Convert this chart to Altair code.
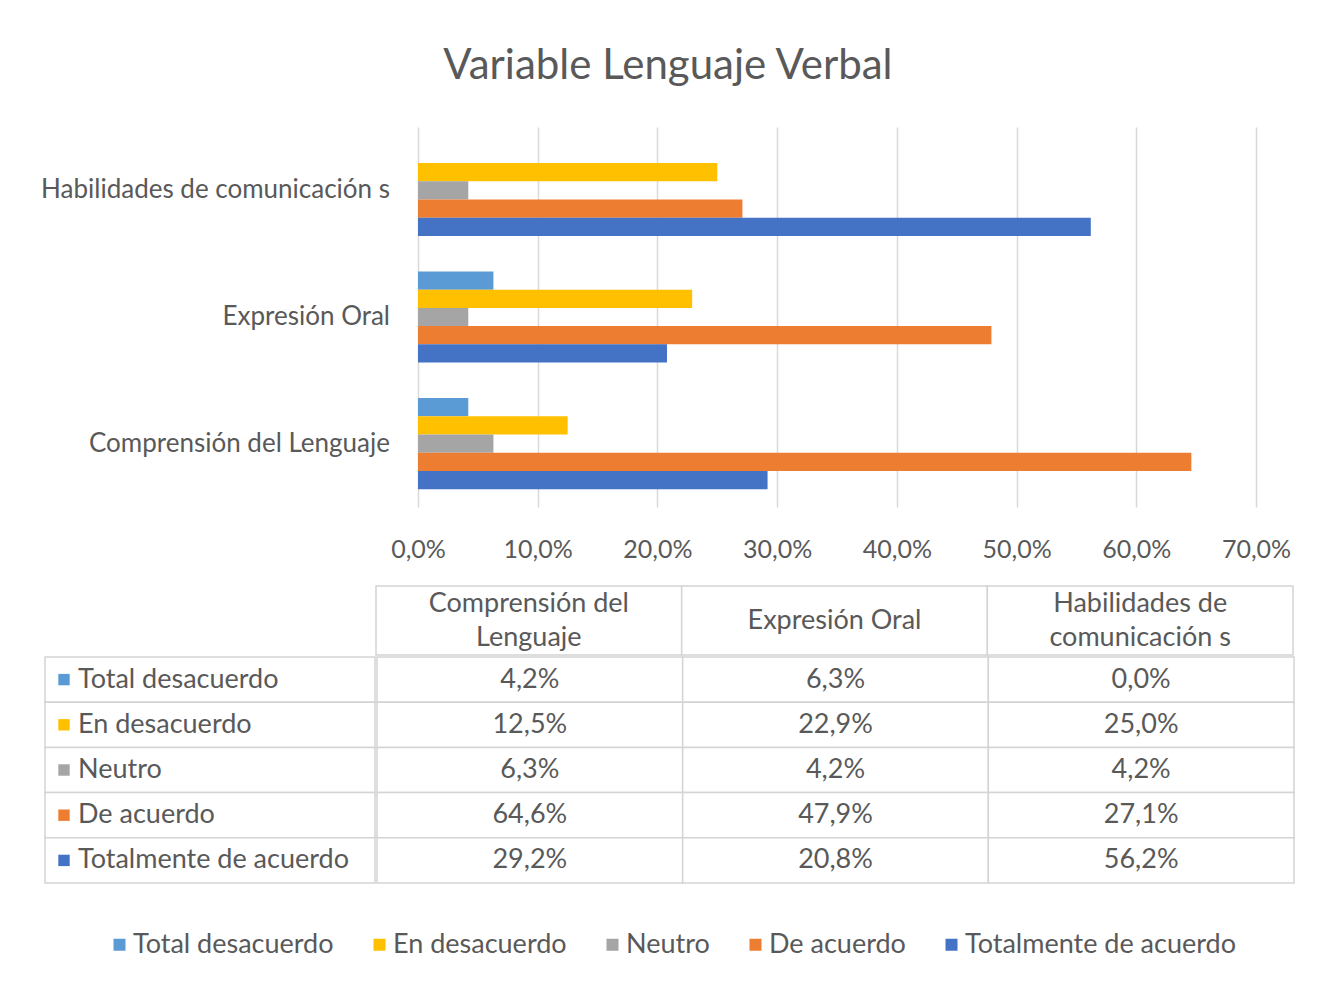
import altair as alt
import pandas as pd

# ---------------- data ----------------
title_text = "Variable Lenguaje Verbal"
categories = ["Comprensión del Lenguaje", "Expresión Oral", "Habilidades de comunicación s"]
categories_top_down = ["Habilidades de comunicación s", "Expresión Oral", "Comprensión del Lenguaje"]
table_headers = ["Comprensión del\nLenguaje", "Expresión Oral", "Habilidades de\ncomunicación s"]
series = ["Total desacuerdo", "En desacuerdo", "Neutro", "De acuerdo", "Totalmente de acuerdo"]
series_colors = ["#5B9BD5", "#FFC000", "#A5A5A5", "#ED7D31", "#4472C4"]

total_desacuerdo = [4.2, 6.3, 0.0]
en_desacuerdo = [12.5, 22.9, 25.0]
neutro = [6.3, 4.2, 4.2]
de_acuerdo = [64.6, 47.9, 27.1]
totalmente_de_acuerdo = [29.2, 20.8, 56.2]

x_ticks = [0.0, 0.1, 0.2, 0.3, 0.4, 0.5, 0.6, 0.7]

series_values = [total_desacuerdo, en_desacuerdo, neutro, de_acuerdo, totalmente_de_acuerdo]
rows = []
for s, vals in zip(series, series_values):
    for c, v in zip(categories, vals):
        rows.append({"category": c, "series": s, "value": v / 100.0,
                     "label": f"{v:.1f}%".replace(".", ",")})
df = pd.DataFrame(rows)
cat_df = pd.DataFrame({"category": categories})
hdr_df = pd.DataFrame({"category": categories, "text": table_headers})
ser_df = pd.DataFrame({"series": series})

# ---------------- style ----------------
FONT = "Lato"
GRAY = "#595959"
GRID = "#d9d9d9"
BORDER = "#d4d4d4"
FS = 27

color_scale = alt.Scale(domain=series, range=series_colors)
band0 = alt.Scale(paddingInner=0, paddingOuter=0)
cat_scale = alt.Scale(paddingInner=0.28, paddingOuter=0.14)

# ---------------- bar chart ----------------
ylabels = alt.Chart(cat_df).mark_text(
    align="right", fontSize=26, font=FONT, color=GRAY
).encode(
    y=alt.Y("category:N", sort=categories_top_down, scale=cat_scale, axis=None),
    x=alt.value(345),
    text="category:N",
).properties(width=345, height=380)

bars = alt.Chart(df).mark_bar().encode(
    y=alt.Y("category:N", sort=categories_top_down, scale=cat_scale, axis=None),
    yOffset=alt.YOffset("series:N", sort=series, scale=band0),
    x=alt.X("value:Q", scale=alt.Scale(domain=[0, 0.7], nice=False),
            axis=alt.Axis(title=None, values=x_ticks, grid=True, gridColor=GRID, gridWidth=1.5,
                          domain=False, ticks=False, labelPadding=30, labelFontSize=25,
                          labelColor=GRAY, labelFont=FONT, labelFlush=False,
                          labelOverlap=False,
                          labelExpr="replace(format(datum.value, '.1%'), '.', ',')")),
    color=alt.Color("series:N", sort=series, scale=color_scale, legend=None),
).properties(width=838, height=380)

top = alt.hconcat(ylabels, bars, spacing=0)

# ---------------- data table ----------------
blank = alt.Chart(ser_df).mark_text(text="").encode(
    x=alt.value(0), y=alt.value(0)
).properties(width=330, height=69)

hdr_x = alt.X("category:N", sort=categories, axis=None, scale=band0)
multi = "indexof(datum.text, '\\n') >= 0"
header = alt.layer(
    alt.Chart(hdr_df).mark_rect(fill="white", stroke=BORDER, strokeWidth=1.5).encode(x=hdr_x),
    alt.Chart(hdr_df).transform_filter(multi).mark_text(
        lineBreak="\n", fontSize=FS, font=FONT, color=GRAY, lineHeight=34, dy=-17
    ).encode(x=hdr_x, text="text:N"),
    alt.Chart(hdr_df).transform_filter("!(" + multi + ")").mark_text(
        fontSize=FS, font=FONT, color=GRAY
    ).encode(x=hdr_x, text="text:N"),
).properties(width=917, height=69)

row_y = alt.Y("series:N", sort=series, axis=None, scale=band0)
label_col = alt.layer(
    alt.Chart(ser_df).mark_rect(fill="white", stroke=BORDER, strokeWidth=1.5).encode(y=row_y),
    alt.Chart(ser_df).mark_square(size=130, opacity=1).encode(
        y=row_y, x=alt.value(19),
        color=alt.Color("series:N", sort=series, scale=color_scale, legend=None)),
    alt.Chart(ser_df).mark_text(align="left", fontSize=FS, font=FONT, color=GRAY).encode(
        y=row_y, x=alt.value(33), text="series:N"),
).properties(width=330, height=226)

cell_x = alt.X("category:N", sort=categories, axis=None, scale=band0)
cells = alt.layer(
    alt.Chart(df).mark_rect(fill="white", stroke=BORDER, strokeWidth=1.5).encode(x=cell_x, y=row_y),
    alt.Chart(df).mark_text(fontSize=FS, font=FONT, color=GRAY).encode(
        x=cell_x, y=row_y, text="label:N"),
).properties(width=917, height=226)

table = alt.vconcat(
    alt.hconcat(blank, header, spacing=0),
    alt.hconcat(label_col, cells, spacing=0).resolve_scale(color="independent"),
    spacing=0,
).resolve_scale(color="independent").resolve_legend(color="independent")

# ---------------- legend ----------------
legend_chart = alt.Chart(ser_df).mark_square(size=0, opacity=0).encode(
    color=alt.Color("series:N", sort=series, scale=color_scale,
                    legend=alt.Legend(orient="none", legendX=61, legendY=29,
                                      direction="horizontal", title=None,
                                      symbolType="square", symbolSize=144,
                                      symbolOpacity=1, symbolStrokeWidth=0,
                                      labelFontSize=FS, labelFont=FONT, labelColor=GRAY,
                                      labelLimit=500, labelOffset=0, columnPadding=32))
).properties(width=1247, height=40)

chart = alt.vconcat(
    top, table, legend_chart, spacing=18,
    title=alt.TitleParams(title_text, fontSize=42, font=FONT, color=GRAY,
                          fontWeight="normal", anchor="middle", offset=39),
).resolve_scale(color="independent").resolve_legend(color="independent").properties(
    padding={"left": 33, "top": 37, "right": 5, "bottom": 5}
).configure(
    font=FONT, background="white",
    view=alt.ViewConfig(stroke="transparent", strokeWidth=0),
)

chart.save("out.html", embed_options={"renderer": "svg", "actions": False})
